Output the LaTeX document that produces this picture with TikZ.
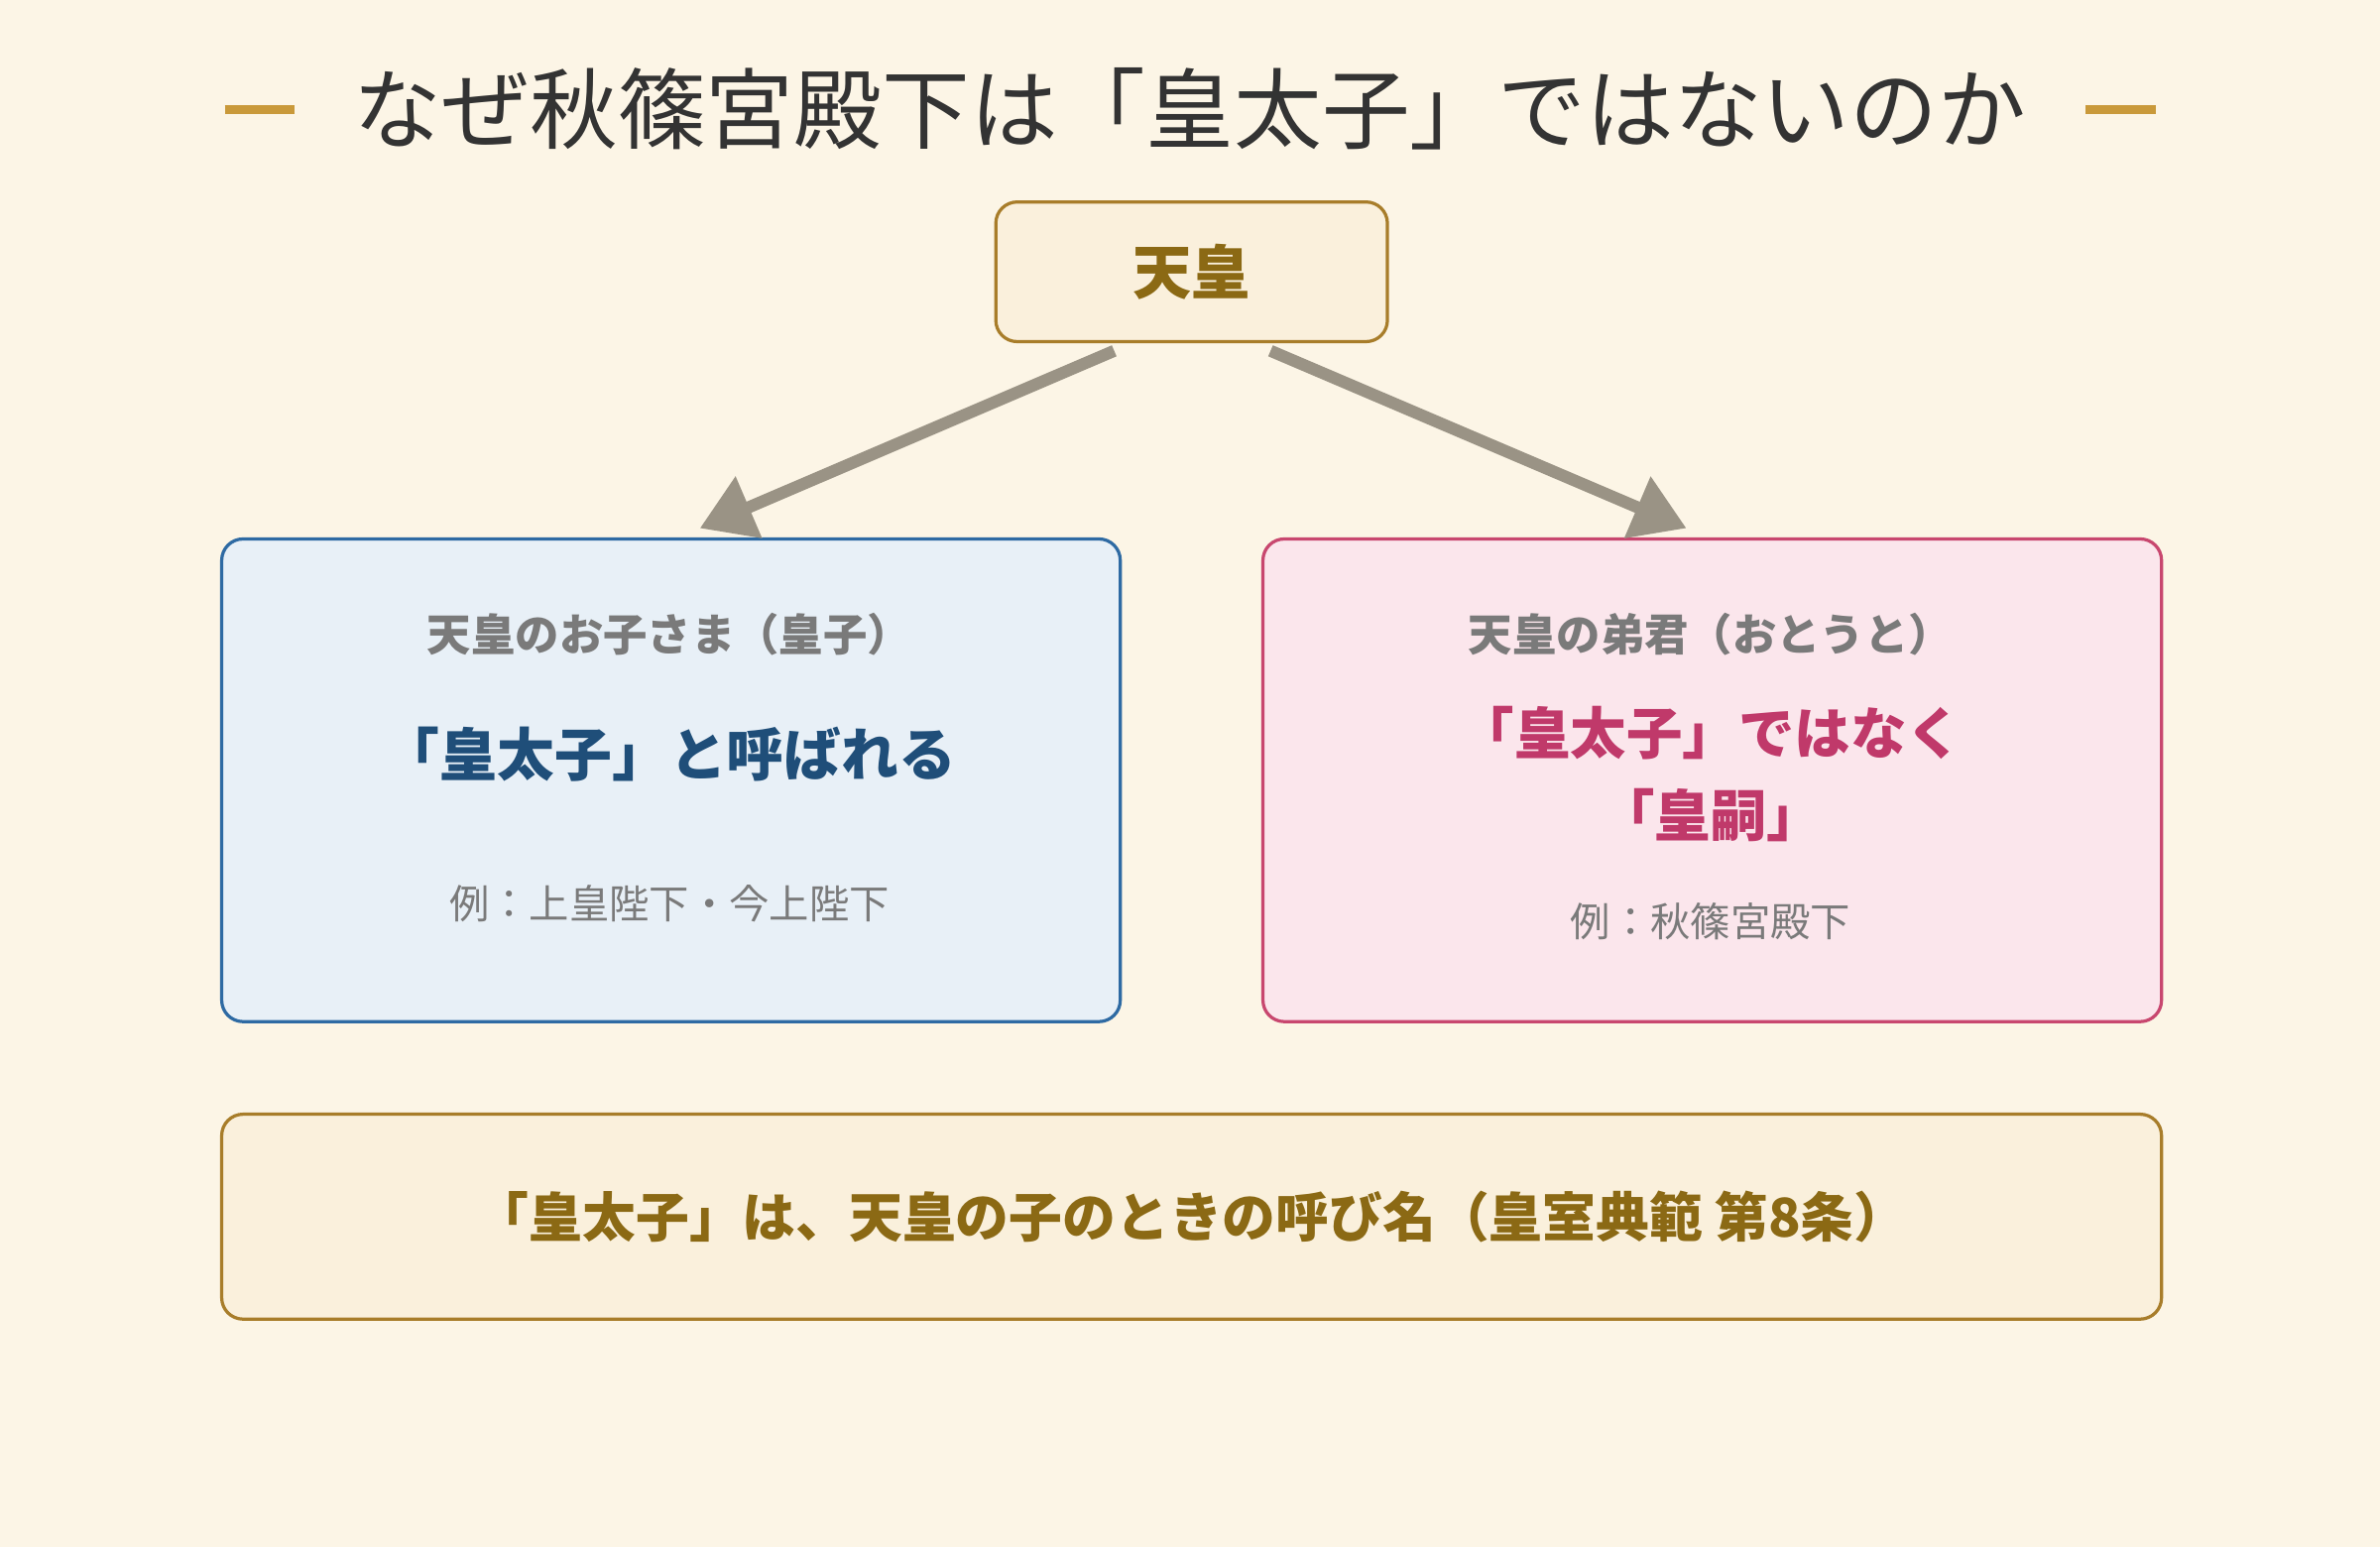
\documentclass[tikz,border=0pt]{standalone}
\usepackage{fontspec}
\setmainfont{Noto Sans CJK JP}
\usetikzlibrary{positioning,calc,arrows.meta}
\definecolor{bgcream}{HTML}{FCF5E6}
\definecolor{goldline}{HTML}{C9993A}
\definecolor{goldfill}{HTML}{FAF0DC}
\definecolor{goldedge}{HTML}{A87D2A}
\definecolor{goldtext}{HTML}{8B6914}
\definecolor{bluefill}{HTML}{E8F0F7}
\definecolor{blueedge}{HTML}{2E6AA3}
\definecolor{bluetext}{HTML}{1F4E79}
\definecolor{pinkfill}{HTML}{FBE6EC}
\definecolor{pinkedge}{HTML}{C8476F}
\definecolor{pinktext}{HTML}{C0396A}
\definecolor{graytext}{HTML}{7A7A7A}
\definecolor{arrowgray}{HTML}{9A9385}
\tikzset{
  box/.style={draw, rounded corners=8pt, line width=1.2pt, anchor=north west},
  arr/.style={draw=arrowgray, line width=4.5pt, -{Triangle[length=20pt,width=24pt]}},
}
\begin{document}
\begin{tikzpicture}[x=0.02cm,y=-0.02cm]
  \fill[bgcream] (0,0) rectangle (1568,1019);
  % title
  \node[font=\fontsize{33}{38}\selectfont, text=black!80] (title) at (784,72) {なぜ秋篠宮殿下は「皇太子」ではないのか};
  \draw[goldline, line width=3.5pt] (148,72) -- (194,72);
  \draw[goldline, line width=3.5pt] (1374,72) -- (1420,72);
  % emperor
  \node[box, fill=goldfill, draw=goldedge, minimum width=258*0.02cm, minimum height=92*0.02cm] (emperor) at (655,132) {};
  \node[font=\bfseries\fontsize{22}{26}\selectfont, text=goldtext] at (emperor.center) {天皇};
  % children
  \node[box, fill=bluefill, draw=blueedge, minimum width=592*0.02cm, minimum height=318*0.02cm] (child) at (145,354) {};
  \node[font=\bfseries\fontsize{16.5}{20}\selectfont, text=graytext] (childtag) at (441,418) {天皇のお子さま（皇子）};
  \node[font=\bfseries\fontsize{21.5}{25}\selectfont, text=bluetext] (childname) at (441,497) {「皇太子」と呼ばれる};
  \node[font=\fontsize{15}{18}\selectfont, text=graytext] (childex) at (441,595) {例：上皇陛下・今上陛下};
  % brother
  \node[box, fill=pinkfill, draw=pinkedge, minimum width=592*0.02cm, minimum height=318*0.02cm] (brother) at (831,354) {};
  \node[font=\bfseries\fontsize{16.5}{20}\selectfont, text=graytext] (brothertag) at (1127,418) {天皇の弟君（おとうと）};
  \node[font=\bfseries\fontsize{21}{25}\selectfont, text=pinktext, align=center] (brothername) at (1127,510) {「皇太子」ではなく\\[6pt]「皇嗣」};
  \node[font=\fontsize{15}{18}\selectfont, text=graytext] (brotherex) at (1127,607) {例：秋篠宮殿下};
  % note
  \node[box, fill=goldfill, draw=goldedge, minimum width=1278*0.02cm, minimum height=135*0.02cm] (note) at (145,733) {};
  \node[font=\bfseries\fontsize{20}{24}\selectfont, text=goldtext] at (note.center) {「皇太子」は、天皇の子のときの呼び名（皇室典範 第8条）};
  % arrows
  \draw[arr] ([xshift=-51*0.02cm,yshift=-5*0.02cm]emperor.south) -- ([xshift=19*0.02cm,yshift=6*0.02cm]child.north);
  \draw[arr] ([xshift=52*0.02cm,yshift=-5*0.02cm]emperor.south) -- ([xshift=-17*0.02cm,yshift=6*0.02cm]brother.north);
\end{tikzpicture}
\end{document}
